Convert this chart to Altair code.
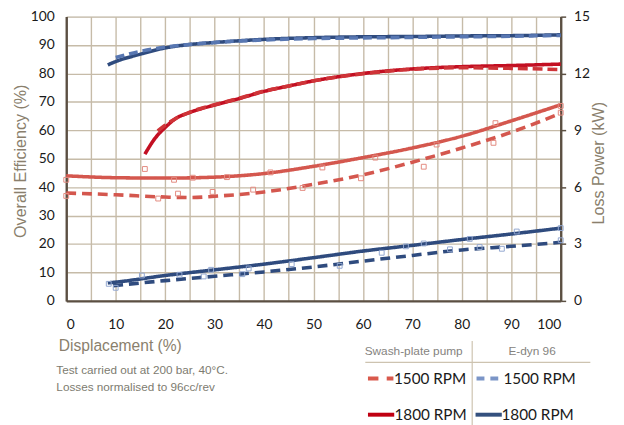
import altair as alt
import pandas as pd

# ---------------- data ----------------
# Overall efficiency (%) vs displacement (%)
eff_edyn1800_x = [8.4, 10, 15, 20, 25, 30, 40, 50, 60, 70, 80, 90, 100]
eff_edyn1800_y = [83.0, 84.2, 86.8, 89.0, 90.2, 90.9, 92.0, 92.6, 92.9, 93.0, 93.2, 93.3, 93.6]
eff_edyn1500_x = [10, 15, 20, 25, 30, 40, 50, 60, 70, 80, 90, 100]
eff_edyn1500_y = [85.6, 87.8, 89.3, 90.2, 90.9, 91.8, 92.3, 92.5, 92.7, 92.9, 93.1, 93.4]
eff_swash1800_x = [15.9, 18, 20, 22, 25, 30, 35, 40, 45, 50, 60, 70, 80, 90, 100]
eff_swash1800_y = [51.6, 57.3, 61.0, 64.0, 66.3, 68.9, 71.2, 73.7, 75.6, 77.4, 80.0, 81.6, 82.4, 82.8, 83.3]
eff_swash1500_x = [18.5, 20, 22, 25, 30, 35, 40, 45, 50, 60, 70, 80, 90, 100]
eff_swash1500_y = [59.8, 61.8, 64.0, 66.4, 69.0, 71.3, 73.8, 75.6, 77.4, 79.9, 81.5, 82.0, 81.8, 81.4]

# Loss power (kW) vs displacement (%)
loss_swash1800_x = [0, 10, 20, 30, 40, 50, 60, 70, 80, 90, 100]
loss_swash1800_kw = [6.6, 6.5, 6.48, 6.53, 6.72, 7.1, 7.56, 8.07, 8.69, 9.5, 10.35]
loss_swash1500_x = [0, 10, 20, 25, 30, 40, 50, 60, 70, 80, 90, 100]
loss_swash1500_kw = [5.69, 5.6, 5.48, 5.45, 5.52, 5.75, 6.15, 6.65, 7.32, 8.07, 8.9, 9.9]
loss_edyn1800_x = [8.4, 10, 20, 30, 40, 50, 60, 70, 80, 90, 100]
loss_edyn1800_kw = [0.95, 0.99, 1.34, 1.64, 1.94, 2.28, 2.63, 2.93, 3.24, 3.53, 3.84]
loss_edyn1500_x = [9.5, 20, 30, 40, 50, 60, 70, 80, 90, 100]
loss_edyn1500_kw = [0.8, 1.07, 1.3, 1.53, 1.79, 2.1, 2.4, 2.69, 2.88, 3.09]

# raw measurement points (open squares), loss power kW
raw_swash_x = [0, 0, 15.9, 21.8, 25.6, 32.5, 41.3, 18.6, 22.6, 29.6, 37.8, 47.8,
               51.8, 62.5, 74.9, 86.8, 100, 59.6, 72.3, 86.4, 100]
raw_swash_kw = [6.39, 5.54, 6.96, 6.39, 6.5, 6.53, 6.78, 5.4, 5.66, 5.75, 5.87, 5.96,
                7.04, 7.56, 8.25, 9.38, 10.29, 6.47, 7.08, 8.34, 9.93]
raw_edyn_x = [8.6, 10, 15.3, 22.9, 27.8, 29.3, 35.6, 36.9, 45.6, 55.3, 63.8, 68.7,
              72.3, 77.6, 81.6, 83.6, 88.1, 91.1, 100, 100]
raw_edyn_kw = [0.9, 0.69, 1.34, 1.38, 1.29, 1.64, 1.41, 1.71, 1.94, 1.85, 2.54, 2.88,
               3.03, 2.72, 3.27, 2.84, 2.75, 3.66, 3.84, 3.2]

x_ticks = list(range(0, 101, 5))
eff_ticks = list(range(0, 101, 10))
loss_ticks = [0, 3, 6, 9, 12, 15]

legend_header = ["Swash-plate pump", "E-dyn 96"]
legend_rpm = ["1500 RPM", "1800 RPM"]
note_lines = ["Test carried out at 200 bar, 40°C.", "Losses normalised to 96cc/rev"]

# ---------------- styling ----------------
AXIS_COL = "#5b4f42"
GRID_COL = "#c6bba8"
TITLE_COL = "#8a7f6d"
LABEL_FONT = "Lato"
SANS = "Liberation Sans"


def frame(xs, ys, name):
    return pd.DataFrame({"x": xs, "y": ys, "s": name})


eff_df = pd.concat([
    frame(eff_edyn1800_x, eff_edyn1800_y, "E-dyn 1800 eff"),
    frame(eff_edyn1500_x, eff_edyn1500_y, "E-dyn 1500 eff"),
    frame(eff_swash1800_x, eff_swash1800_y, "Swash 1800 eff"),
    frame(eff_swash1500_x, eff_swash1500_y, "Swash 1500 eff"),
])
loss_df = pd.concat([
    frame(loss_swash1800_x, loss_swash1800_kw, "Swash 1800 loss"),
    frame(loss_swash1500_x, loss_swash1500_kw, "Swash 1500 loss"),
    frame(loss_edyn1800_x, loss_edyn1800_kw, "E-dyn 1800 loss"),
    frame(loss_edyn1500_x, loss_edyn1500_kw, "E-dyn 1500 loss"),
])

series = ["E-dyn 1800 eff", "E-dyn 1500 eff", "Swash 1800 eff", "Swash 1500 eff",
          "Swash 1800 loss", "Swash 1500 loss", "E-dyn 1800 loss", "E-dyn 1500 loss"]
colors = ["#2f4b7e", "#5877b2", "#c30f22", "#cf3438",
          "#d4574e", "#d4574e", "#2f4b7e", "#2f4b7e"]
dashes = [[1, 0], [9, 5], [1, 0], [10, 5], [1, 0], [10, 6], [1, 0], [10, 6]]

color_enc = alt.Color("s:N", scale=alt.Scale(domain=series, range=colors), legend=None)
dash_enc = alt.StrokeDash("s:N", scale=alt.Scale(domain=series, range=dashes), legend=None)

x_enc = alt.X(
    "x:Q",
    scale=alt.Scale(domain=[0, 100], nice=False),
    axis=alt.Axis(
        values=x_ticks,
        labelExpr="datum.value % 10 === 0 ? datum.label : ''",
        grid=True, gridColor=GRID_COL, gridWidth=1.4,
        ticks=False, domainColor=AXIS_COL, domainWidth=2.4,
        labelFont=LABEL_FONT, labelFontSize=14, labelColor="#1a1a1a", labelPadding=17,
        title="Displacement (%)", titleFont=SANS, titleFontSize=15.8,
        titleFontWeight="normal", titleColor=TITLE_COL,
        titleX=-8, titleY=45, titleAlign="left", titleBaseline="middle",
    ),
)

eff_axis = alt.Axis(
    orient="left", values=eff_ticks,
    grid=True, gridColor=GRID_COL, gridWidth=1.4,
    ticks=False, domainColor=AXIS_COL, domainWidth=2.4,
    labelFont=LABEL_FONT, labelFontSize=14, labelColor="#1a1a1a", labelPadding=12,
    title="Overall Efficiency (%)", titleFont=SANS, titleFontSize=16.3,
    titleFontWeight="normal", titleColor=TITLE_COL,
    titleAngle=270, titleX=-46, titleY=146, titleAlign="center", titleBaseline="middle",
)
loss_axis = alt.Axis(
    orient="right", values=loss_ticks,
    grid=False, ticks=True, tickSize=5, tickColor=AXIS_COL, tickWidth=1.5,
    domainColor=AXIS_COL, domainWidth=2.4,
    labelFont=LABEL_FONT, labelFontSize=14, labelColor="#1a1a1a", labelPadding=8,
    title="Loss Power (kW)", titleFont=SANS, titleFontSize=16.3,
    titleFontWeight="normal", titleColor=TITLE_COL,
    titleAngle=270, titleX=38, titleY=148, titleAlign="center", titleBaseline="middle",
)

eff_lines = alt.Chart(eff_df).mark_line(strokeWidth=3.6, interpolate="monotone").encode(
    x=x_enc,
    y=alt.Y("y:Q", scale=alt.Scale(domain=[0, 100], nice=False), axis=eff_axis),
    color=color_enc, strokeDash=dash_enc, detail="s:N",
)

loss_y = alt.Y("y:Q", scale=alt.Scale(domain=[0, 15], nice=False), axis=loss_axis)

loss_lines = alt.Chart(loss_df).mark_line(strokeWidth=3.6, interpolate="monotone").encode(
    x=x_enc, y=loss_y, color=color_enc, strokeDash=dash_enc, detail="s:N",
)
red_squares = alt.Chart(pd.DataFrame({"x": raw_swash_x, "y": raw_swash_kw})).mark_point(
    shape="square", filled=False, size=24, strokeWidth=1, color="#e38a80", opacity=1
).encode(x=x_enc, y=loss_y)
blue_squares = alt.Chart(pd.DataFrame({"x": raw_edyn_x, "y": raw_edyn_kw})).mark_point(
    shape="square", filled=False, size=24, strokeWidth=1, color="#93a8d0", opacity=1
).encode(x=x_enc, y=loss_y)

loss_group = alt.layer(loss_lines, red_squares, blue_squares)

one = pd.DataFrame({"k": [0]})


def txt(text, x, y, size, color, font, align="left"):
    return alt.Chart(pd.DataFrame({"t": [text]})).mark_text(
        align=align, baseline="middle", fontSize=size, color=color, font=font
    ).encode(text="t:N", x=alt.value(x), y=alt.value(y))


def sample(x1, x2, y, color, dash=None, width=4):
    kw = dict(color=color, strokeWidth=width)
    if dash:
        kw["strokeDash"] = dash
    return alt.Chart(one).mark_rule(**kw).encode(
        x=alt.value(x1), x2=alt.value(x2), y=alt.value(y)
    )


def vrule(x, y1, y2, color):
    return alt.Chart(one).mark_rule(color=color, strokeWidth=1.2).encode(
        x=alt.value(x), y=alt.value(y1), y2=alt.value(y2)
    )


annotations = [
    txt(note_lines[0], -10, 358.5, 11.9, "#7d7b70", SANS),
    txt(note_lines[1], -10, 375.5, 11.9, "#7d7b70", SANS),
    txt(legend_header[0], 352, 338.5, 12, "#858380", SANS, align="center"),
    txt(legend_header[1], 472, 338.5, 12, "#858380", SANS, align="center"),
    sample(303, 531, 350.3, "#cdc3b0", width=1.3),
    vrule(411.3, 328.7, 420, "#cdc3b0"),
    sample(305.7, 331.5, 366.7, "#d9594c", dash=[10.6, 8.4]),
    txt(legend_rpm[0], 332, 366.7, 15.5, "#1a1a1a", LABEL_FONT),
    sample(305.7, 332.3, 403.3, "#c00012"),
    txt(legend_rpm[1], 332.5, 403.3, 15.5, "#1a1a1a", LABEL_FONT),
    sample(415.7, 438, 366.7, "#7b95c7", dash=[8, 6]),
    txt(legend_rpm[0], 443, 366.7, 15.5, "#1a1a1a", LABEL_FONT),
    sample(414.7, 441.3, 403.3, "#34507e"),
    txt(legend_rpm[1], 441, 403.3, 15.5, "#1a1a1a", LABEL_FONT),
]

chart = alt.layer(eff_lines, loss_group, *annotations).resolve_scale(
    y="independent"
).properties(
    width=501, height=288,
    autosize=alt.AutoSizeParams(type="none"),
    padding={"left": 59, "top": 6, "right": 56, "bottom": 123},
).configure_view(stroke=None).configure(background="white")

chart.save("out.html", embed_options={"renderer": "svg", "actions": False})
